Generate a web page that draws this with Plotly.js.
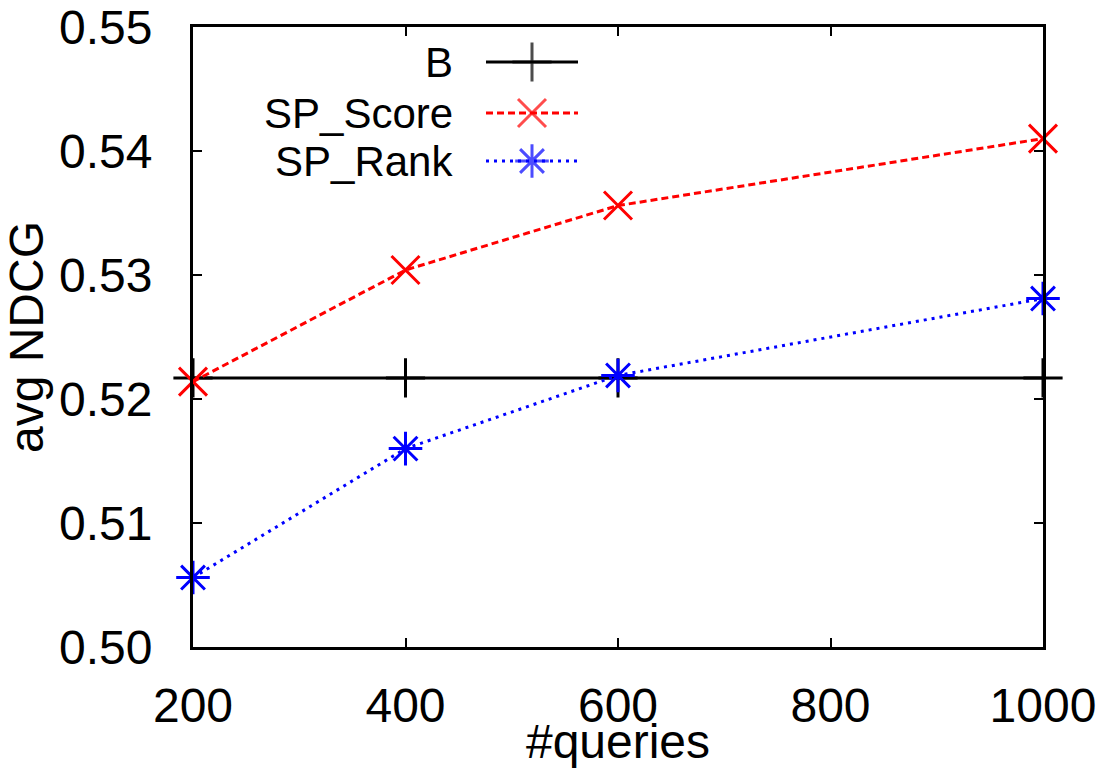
<!DOCTYPE html>
<html>
<head>
<meta charset="utf-8">
<script src="https://cdn.plot.ly/plotly-3.0.1.min.js"></script>
<style>html,body{margin:0;padding:0;background:#fff;}#chart{width:1106px;height:768px;}</style>
</head>
<body>
<div id="chart"></div>
<script>
// ---- data ----
const queries = [200, 400, 600, 1000];
const seriesNames = ["B", "SP_Score", "SP_Rank"];
const bValues = [0.5217, 0.5217, 0.5217, 0.5217];
const spScoreValues = [0.5214, 0.5304, 0.5356, 0.5410];
const spRankValues = [0.5056, 0.5160, 0.5219, 0.5281];
const xTicks = [200, 400, 600, 800, 1000];
const yTicks = [0.50, 0.51, 0.52, 0.53, 0.54, 0.55];

// ---- styles ----
const FONT = "Liberation Sans, Arial, Helvetica, sans-serif";
const styles = [
  {color: "#000000", dash: "solid", symbol: "cross-thin-open"},
  {color: "#ff0000", dash: "7px,4px", symbol: "x-thin-open"},
  {color: "#0000ff", dash: "3px,5px", symbol: "asterisk-open"}
];
const seriesValues = [bValues, spScoreValues, spRankValues];

const traces = seriesValues.map((vals, i) => ({
  x: queries, y: vals, name: seriesNames[i], type: "scatter", mode: "lines+markers",
  line: {color: styles[i].color, width: 3, dash: styles[i].dash},
  marker: {symbol: styles[i].symbol, size: 28, color: styles[i].color, line: {color: styles[i].color, width: 3}},
  cliponaxis: false, showlegend: false, xaxis: "x", yaxis: "y"
}));

// ---- custom legend (text left, sample right), in pixel-space overlay axes ----
const legendRowsY = [62, 113, 161];
const legendTextRight = 455;
const sampleX = [486, 532, 578];
const annotations = [];
seriesNames.forEach((n, i) => {
  traces.push({
    x: sampleX, y: [legendRowsY[i], legendRowsY[i], legendRowsY[i]],
    type: "scatter", mode: "lines+markers", xaxis: "x2", yaxis: "y2", showlegend: false, hoverinfo: "skip",
    line: {color: styles[i].color, width: 3, dash: styles[i].dash},
    marker: {symbol: styles[i].symbol, size: [0, 28, 0], color: styles[i].color, line: {color: styles[i].color, width: 3}},
    cliponaxis: false
  });
  annotations.push({
    xref: "x2", yref: "y2", x: legendTextRight, y: legendRowsY[i], text: n, showarrow: false,
    xanchor: "right", yanchor: "middle", font: {family: FONT, size: 42, color: "#000"}
  });
});

const L = 193, R = 63, T = 27, B = 121;
const layout = {
  width: 1106, height: 768,
  margin: {l: L, r: R, t: T, b: B, pad: 0},
  paper_bgcolor: "#fff", plot_bgcolor: "#fff",
  font: {family: FONT, size: 48, color: "#000"},
  showlegend: false,
  xaxis: {
    range: [200, 1000], tickvals: xTicks, ticktext: xTicks.map(String),
    showgrid: false, zeroline: false, showline: true, linewidth: 3, linecolor: "#000",
    mirror: "ticks", ticks: "inside", ticklen: 9, tickwidth: 2, tickcolor: "#000",
    tickfont: {family: FONT, size: 48}, ticklabelstandoff: 14,
    title: {text: "#queries", font: {family: FONT, size: 48}, standoff: 2},
    automargin: false
  },
  yaxis: {
    range: [0.50, 0.55], tickvals: yTicks, ticktext: yTicks.map(v => v.toFixed(2)),
    showgrid: false, zeroline: false, showline: true, linewidth: 3, linecolor: "#000",
    mirror: "ticks", ticks: "inside", ticklen: 9, tickwidth: 2, tickcolor: "#000",
    tickfont: {family: FONT, size: 48}, ticklabelstandoff: 28,
    title: {text: "avg NDCG", font: {family: FONT, size: 48}, standoff: 8},
    automargin: false
  },
  xaxis2: {overlaying: "x", range: [L, 1106 - R], visible: false, fixedrange: true},
  yaxis2: {overlaying: "y", range: [768 - B, T], visible: false, fixedrange: true},
  annotations: annotations
};

Plotly.newPlot("chart", traces, layout, {displayModeBar: false, staticPlot: true});
</script>
</body>
</html>
